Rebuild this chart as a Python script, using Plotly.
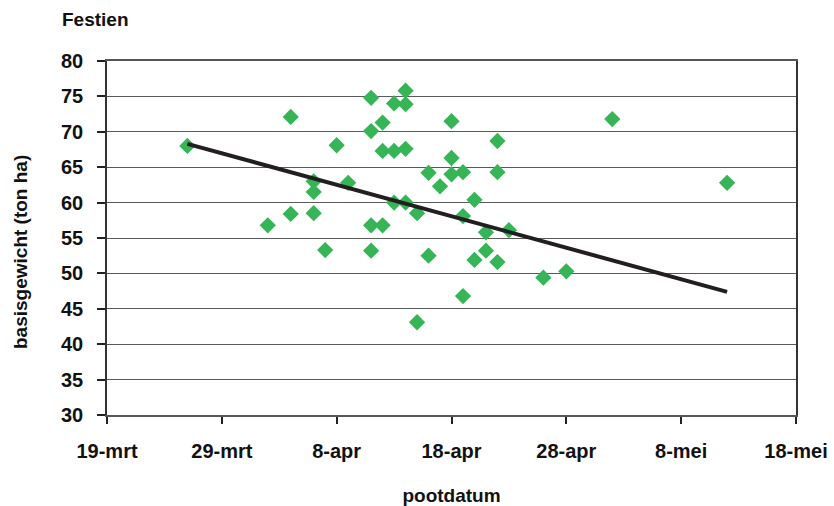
import datetime as dt
import plotly.graph_objects as go

# Planting dates as days after 19 March, and base yield (ton/ha)
start = dt.date(2009, 3, 19)
plant_day = [7, 14, 16, 16, 18, 18, 18, 19, 20, 21,
             23, 23, 23, 23, 24, 24, 24, 25, 25, 25,
             26, 26, 26, 26, 27, 27, 28, 28, 29, 30,
             30, 30, 31, 31, 31, 32, 32, 33, 33, 34,
             34, 34, 35, 38, 40, 44, 54]
yield_t = [68.0, 56.8, 72.1, 58.4, 63.0, 61.5, 58.5, 53.3, 68.1, 62.8,
           74.8, 70.1, 56.8, 53.2, 71.3, 67.3, 56.8, 74.0, 67.3, 60.0,
           75.8, 73.9, 67.6, 60.0, 58.5, 43.1, 64.2, 52.5, 62.3, 71.5,
           66.3, 64.0, 64.3, 58.1, 46.8, 60.4, 51.9, 55.8, 53.2, 68.7,
           64.3, 51.6, 56.1, 49.4, 50.3, 71.8, 62.8]

# Trend line (start and end of the fitted line)
trend_days = [7, 54]
trend_vals = [68.3, 47.4]

tick_days = [0, 10, 20, 30, 40, 50, 60]
tick_text = ["19-mrt", "29-mrt", "8-apr", "18-apr", "28-apr", "8-mei", "18-mei"]
y_ticks = list(range(30, 81, 5))

dates = [start + dt.timedelta(days=d) for d in plant_day]
trend_dates = [start + dt.timedelta(days=d) for d in trend_days]
tick_vals = [start + dt.timedelta(days=d) for d in tick_days]

font_fam = "Liberation Sans, Arial"

fig = go.Figure()
fig.add_trace(go.Scatter(
    x=dates, y=yield_t, mode="markers",
    marker=dict(symbol="diamond", size=12.5, color="#35b556", line=dict(width=0)),
    showlegend=False,
))
fig.add_trace(go.Scatter(
    x=trend_dates, y=trend_vals, mode="lines",
    line=dict(color="#231f20", width=4),
    showlegend=False,
))

fig.update_layout(
    width=834, height=506,
    margin=dict(l=107, r=38, t=61, b=91),
    paper_bgcolor="white", plot_bgcolor="white",
    font=dict(family=font_fam, size=20, color="#111"),
    title=dict(text="<b>Festien</b>", x=62 / 834, xref="container", xanchor="left",
               y=1 - 13 / 506, yref="container", yanchor="top", font=dict(size=19)),
    xaxis=dict(
        range=[tick_vals[0], tick_vals[-1]],
        tickvals=tick_vals, ticktext=[f"<b>{t}</b>" for t in tick_text],
        ticks="outside", ticklen=7, tickcolor="#222", tickwidth=1.5,
        ticklabelstandoff=10,
        showgrid=False, showline=True, linecolor="#555", linewidth=1.5,
        mirror=True, automargin=False,
        title=dict(text="<b>pootdatum</b>", font=dict(size=19), standoff=28),
    ),
    yaxis=dict(
        range=[30, 80],
        tickvals=y_ticks, ticktext=[f"<b>{v}</b>" for v in y_ticks],
        ticks="outside", ticklen=8, tickcolor="#222", tickwidth=1.5,
        ticklabelstandoff=10,
        showgrid=True, gridcolor="#5a5a5a", gridwidth=1.4,
        showline=True, linecolor="#333", linewidth=1.5, mirror=True,
        automargin=False,
    ),
    annotations=[dict(
        text="<b>basisgewicht (ton ha)</b>", textangle=-90,
        xref="paper", yref="paper", x=-87 / 689, y=(415 - 252) / 354,
        xanchor="center", yanchor="middle", showarrow=False,
        font=dict(size=19),
    )],
)

fig.write_html("out.html")
